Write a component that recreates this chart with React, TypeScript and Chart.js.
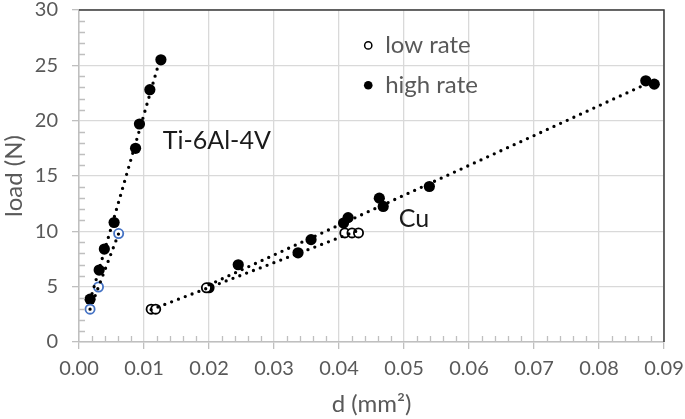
import React, { useEffect, useRef } from "react";
import { Chart, registerables } from "chart.js";
Chart.register(...registerables);

// ---- data ----
const tiLowX = [0.0017, 0.003, 0.0061];
const tiLowY = [2.97, 4.97, 9.8];
const tiHighX = [0.0017, 0.0031, 0.0039, 0.0054, 0.0087, 0.0093, 0.0109, 0.0126];
const tiHighY = [3.87, 6.5, 8.4, 10.8, 17.5, 19.7, 22.8, 25.5];
const cuLowX = [0.0111, 0.0118, 0.0196, 0.0409, 0.042, 0.043];
const cuLowY = [2.97, 2.97, 4.9, 9.86, 9.86, 9.86];
const cuHighX = [0.02, 0.0245, 0.0337, 0.0357, 0.0407, 0.0414, 0.0462, 0.0468, 0.0539, 0.0872, 0.0885];
const cuHighY = [4.9, 6.98, 8.06, 9.25, 10.75, 11.24, 13.0, 12.25, 14.05, 23.6, 23.3];

const legendLabels = ["low rate", "high rate"];
const materialLabels = ["Ti-6Al-4V", "Cu"];
const xTitle = "d (mm²)";
const yTitle = "load (N)";

const FONT = "Lato";
const GREY = "#595959";

function pts(xs: number[], ys: number[]) {
  return xs.map((x, i) => ({ x, y: ys[i] }));
}

// linear least-squares trendline spanning the series' x-range
function trend(xs: number[], ys: number[]) {
  const n = xs.length;
  const mx = xs.reduce((a, b) => a + b, 0) / n;
  const my = ys.reduce((a, b) => a + b, 0) / n;
  let sxy = 0, sxx = 0;
  for (let i = 0; i < n; i++) {
    sxy += (xs[i] - mx) * (ys[i] - my);
    sxx += (xs[i] - mx) * (xs[i] - mx);
  }
  const m = sxy / sxx;
  const b = my - m * mx;
  const x0 = Math.min(...xs);
  const x1 = Math.max(...xs);
  return [
    { x: x0, y: m * x0 + b },
    { x: x1, y: m * x1 + b },
  ];
}

const trendStyle = {
  type: "line" as const,
  borderColor: "#000",
  borderWidth: 3.3,
  borderDash: [0, 7.3],
  borderCapStyle: "round" as const,
  pointRadius: 0,
  fill: false,
  order: 0,
  showLine: true,
};

const overlay = {
  id: "overlay",
  afterDraw(chart: any) {
    const { ctx, chartArea, scales } = chart;
    const xs = scales.x;
    const ys = scales.y;
    const { left, right, top, bottom } = chartArea;
    ctx.save();
    // minor ticks (inside)
    ctx.strokeStyle = "#bfbfbf";
    ctx.lineWidth = 1.3;
    ctx.beginPath();
    for (let v = 1; v < 30; v++) {
      if (v % 5 === 0) continue;
      const p = Math.round(ys.getPixelForValue(v)) + 0.5;
      ctx.moveTo(left, p);
      ctx.lineTo(left + 6, p);
    }
    for (let k = 1; k < 45; k++) {
      if (k % 5 === 0) continue;
      const p = Math.round(xs.getPixelForValue(k * 0.002)) + 0.5;
      ctx.moveTo(p, bottom);
      ctx.lineTo(p, bottom - 6);
    }
    ctx.stroke();
    // dark top / right border
    ctx.strokeStyle = "#3a3a3a";
    ctx.lineWidth = 1.5;
    ctx.beginPath();
    ctx.moveTo(left, top);
    ctx.lineTo(right, top);
    ctx.lineTo(right, bottom);
    ctx.stroke();

    // material labels
    ctx.fillStyle = "#1a1a1a";
    ctx.font = `25px ${FONT}`;
    ctx.textBaseline = "middle";
    ctx.textAlign = "left";
    ctx.fillText(materialLabels[0], xs.getPixelForValue(0.0129), ys.getPixelForValue(18.15));
    ctx.fillText(materialLabels[1], xs.getPixelForValue(0.0492), ys.getPixelForValue(11.1));

    // legend
    ctx.fillStyle = GREY;
    ctx.font = `24px ${FONT}`;
    const mx = xs.getPixelForValue(0.0445);
    const tx = xs.getPixelForValue(0.0471);
    const y1 = ys.getPixelForValue(26.8);
    const y2 = ys.getPixelForValue(23.2);
    ctx.fillText(legendLabels[0], tx, y1);
    ctx.fillText(legendLabels[1], tx, y2);
    ctx.beginPath();
    ctx.arc(mx, y1, 3.6, 0, Math.PI * 2);
    ctx.fillStyle = "#fff";
    ctx.fill();
    ctx.strokeStyle = "#000";
    ctx.lineWidth = 1.5;
    ctx.stroke();
    ctx.beginPath();
    ctx.arc(mx, y2, 4.3, 0, Math.PI * 2);
    ctx.fillStyle = "#000";
    ctx.fill();
    ctx.restore();
  },
};

export default function App() {
  const ref = useRef<HTMLCanvasElement | null>(null);
  useEffect(() => {
    if (!ref.current) return;
    const chart = new Chart(ref.current, {
      type: "scatter",
      data: {
        datasets: [
          { ...trendStyle, data: trend(tiLowX, tiLowY) },
          { ...trendStyle, data: trend(tiHighX, tiHighY) },
          { ...trendStyle, data: trend(cuLowX, cuLowY) },
          { ...trendStyle, data: trend(cuHighX, cuHighY) },
          {
            data: pts(tiLowX, tiLowY),
            pointRadius: 4.6,
            pointBackgroundColor: "#fff",
            pointBorderColor: "#4472C4",
            pointBorderWidth: 1.8,
            order: 1,
          },
          {
            data: pts(tiHighX, tiHighY),
            pointRadius: 5.6,
            pointBackgroundColor: "#000",
            pointBorderColor: "#000",
            pointBorderWidth: 0,
            order: 1,
          },
          {
            data: pts(cuLowX, cuLowY),
            pointRadius: 4.6,
            pointBackgroundColor: "#fff",
            pointBorderColor: "#000",
            pointBorderWidth: 1.8,
            order: 1,
          },
          {
            data: pts(cuHighX, cuHighY),
            pointRadius: 5.6,
            pointBackgroundColor: "#000",
            pointBorderColor: "#000",
            pointBorderWidth: 0,
            order: 1,
          },
        ] as any,
      },
      options: {
        animation: false,
        responsive: false,
        layout: { padding: { top: 0, right: 0, left: 0, bottom: 0 } },
        plugins: { legend: { display: false }, tooltip: { enabled: false } },
        scales: {
          x: {
            type: "linear",
            min: 0,
            max: 0.09,
            afterFit: (s: any) => {
              s.height = 77;
              s.paddingLeft = 0;
              s.paddingRight = 21;
            },
            ticks: {
              stepSize: 0.01,
              callback: (v: any) => Number(v).toFixed(2),
              font: { family: FONT, size: 20, lineHeight: 1 },
              color: GREY,
              padding: 10,
              maxRotation: 0,
            },
            grid: {
              color: "#d9d9d9",
              lineWidth: 1.3,
              tickLength: 7,
              tickColor: "#bfbfbf",
              tickWidth: 1.3,
            },
            border: { color: "#bfbfbf", width: 1.5 },
            title: {
              display: true,
              text: xTitle,
              font: { family: FONT, size: 24 },
              color: GREY,
              padding: { top: 2, bottom: 0 },
            },
          },
          y: {
            type: "linear",
            min: 0,
            max: 30,
            afterFit: (s: any) => {
              s.width = 79;
              s.paddingTop = 10;
              s.paddingBottom = 0;
            },
            ticks: {
              stepSize: 5,
              font: { family: FONT, size: 20, lineHeight: 1 },
              color: GREY,
              padding: 14,
            },
            grid: {
              color: "#d9d9d9",
              lineWidth: 1.3,
              tickLength: 7,
              tickColor: "#bfbfbf",
              tickWidth: 1.3,
            },
            border: { color: "#bfbfbf", width: 1.5 },
            title: {
              display: true,
              text: yTitle,
              font: { family: FONT, size: 24 },
              color: GREY,
              padding: { top: 0, bottom: 2 },
            },
          },
        },
      },
      plugins: [overlay],
    });
    return () => chart.destroy();
  }, []);
  return (
    <div style={{ position: "absolute", left: 0, top: 0, width: 685, height: 419, background: "#fff" }}>
      <canvas ref={ref} width={685} height={419} style={{ display: "block" }} />
    </div>
  );
}
